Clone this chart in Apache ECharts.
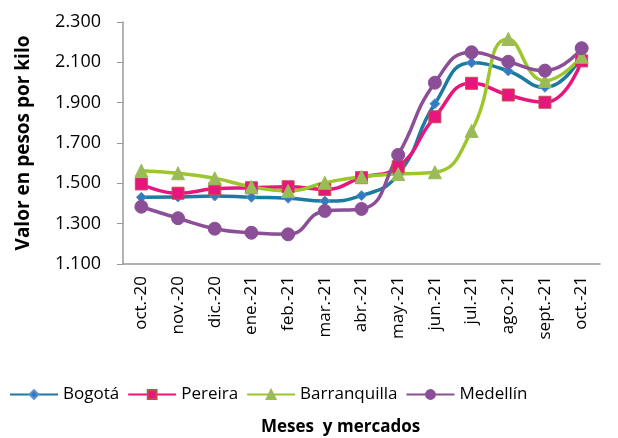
<!DOCTYPE html>
<html>
<head>
<meta charset="utf-8">
<script src="https://cdn.jsdelivr.net/npm/echarts@6/dist/echarts.min.js"></script>
<style>
  html, body { margin: 0; padding: 0; background: #fff; }
  #chart { width: 618px; height: 438px; }
</style>
</head>
<body>
<div id="chart"></div>
<script>
// meses
const meses = ["oct.-20", "nov.-20", "dic.-20", "ene.-21", "feb.-21", "mar.-21", "abr.-21",
  "may.-21", "jun.-21", "jul.-21", "ago.-21", "sept.-21", "oct.-21"];

// precios por mercado
const bogota = [1431, 1432, 1437, 1431, 1426, 1412, 1439, 1545, 1895, 2098, 2057, 1976, 2132];
const pereira = [1497, 1451, 1473, 1478, 1483, 1470, 1528, 1582, 1830, 1996, 1938, 1902, 2107];
const barranquilla = [1563, 1550, 1525, 1483, 1462, 1503, 1533, 1546, 1555, 1760, 2216, 2008, 2128];
const medellin = [1384, 1327, 1275, 1255, 1247, 1363, 1373, 1641, 1999, 2150, 2103, 2059, 2170];

const fontFam = "'Open Sans', 'Noto Sans', sans-serif";

function serie(name, data, color, symbol, size, border) {
  return {
    name: name,
    type: "line",
    data: data,
    smooth: true,
    symbol: symbol,
    symbolSize: size,
    lineStyle: { color: color, width: 3.5 },
    itemStyle: { color: border.fill, borderColor: border.stroke, borderWidth: 1 },
    z: 2
  };
}

const chart = echarts.init(document.getElementById("chart"));
chart.setOption({
  animation: false,
  textStyle: { fontFamily: fontFam },
  title: {
    text: "Meses  y mercados",
    left: 256,
    top: 414,
    textStyle: { fontSize: 17, fontWeight: "bold", color: "#000", fontFamily: fontFam }
  },
  grid: { left: 123, right: 18, top: 22, bottom: 174, containLabel: false },
  legend: {
    top: 381,
    left: 4,
    itemWidth: 48,
    itemHeight: 11,
    itemGap: 8,
    textStyle: { fontSize: 17, color: "#000", fontFamily: fontFam },
    data: ["Bogotá", "Pereira", "Barranquilla", "Medellín"]
  },
  xAxis: {
    type: "category",
    data: meses,
    boundaryGap: true,
    axisLine: { lineStyle: { color: "#999", width: 1.5 } },
    axisTick: { show: false },
    axisLabel: { rotate: 90, fontSize: 17, color: "#000", margin: 12, interval: 0, fontFamily: fontFam }
  },
  yAxis: {
    type: "value",
    min: 1100,
    max: 2300,
    interval: 200,
    name: "Valor en pesos por kilo",
    nameLocation: "middle",
    nameGap: 90,
    nameTextStyle: { fontSize: 19, fontWeight: "bold", color: "#000", fontFamily: fontFam },
    splitLine: { show: false },
    axisLine: { show: true, lineStyle: { color: "#999", width: 1.5 } },
    axisTick: { show: true, length: 6, lineStyle: { color: "#999" } },
    axisLabel: {
      fontSize: 18, color: "#000", margin: 22, fontFamily: fontFam,
      formatter: function (v) { return (v / 1000).toFixed(3); }
    }
  },
  series: [
    serie("Bogotá", bogota, "#1C7BA0", "diamond", 10, { fill: "#2F7DC0", stroke: "#5B8FD0" }),
    serie("Pereira", pereira, "#E8157F", "rect", 12, { fill: "#E8157F", stroke: "#C0504D" }),
    serie("Barranquilla", barranquilla, "#9CC62B", "triangle", 13, { fill: "#9BBB59", stroke: "#9BBB59" }),
    serie("Medellín", medellin, "#8B4F97", "circle", 13, { fill: "#8B4F97", stroke: "#8B4F97" })
  ]
});
</script>
</body>
</html>
